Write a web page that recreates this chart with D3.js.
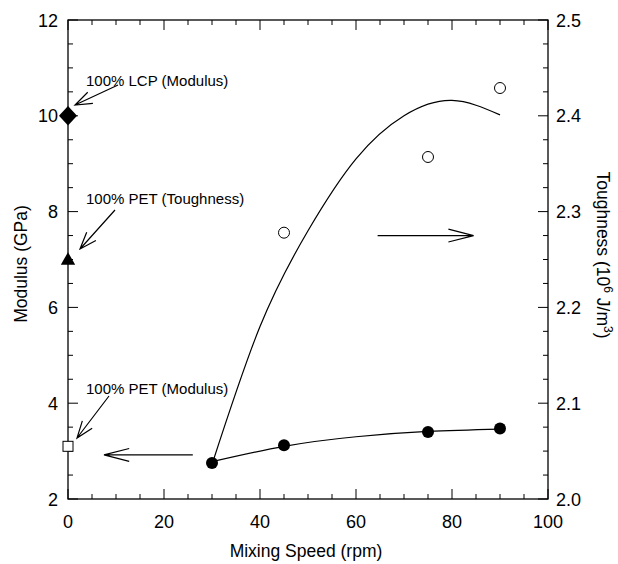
<!DOCTYPE html>
<html>
<head>
<meta charset="utf-8" />
<title>Modulus and toughness vs mixing speed</title>
<style>
body { margin: 0; background: #fff; }
#graph { width: 618px; height: 564px; }
text { font-family: "Liberation Sans", Arial, Helvetica, sans-serif; fill: #000; }
</style>
</head>
<body>
<div id="graph"></div>
<script src="https://d3js.org/d3.v7.min.js"></script>
<script>
// blend data
var speed = [30, 45, 75, 90];
var modulus = [2.75, 3.12, 3.40, 3.47];
var toughSpeed = [45, 75, 90];
var toughness = [2.278, 2.357, 2.429];

// smooth fit lines as drawn in the figure
var modulusFit = [[30, 2.78], [45, 3.10], [60, 3.30], [75, 3.41], [90, 3.46]];
var toughnessFit = [[30, 2.036], [40, 2.18], [50, 2.28], [60, 2.355], [70, 2.400], [80, 2.416], [90, 2.401]];

// pure-component reference points at 0 rpm (on the modulus scale)
var lcpModulus = 10;
var petToughnessOnLeft = 7;
var petModulus = 3.1;

var xTicks = [0, 20, 40, 60, 80, 100];
var yLeftTicks = [2, 4, 6, 8, 10, 12];
var yRightTicks = [2.0, 2.1, 2.2, 2.3, 2.4, 2.5];

!(function(){
    "use strict"
    var width = 618, height = 564;
    var margin = {top: 20, left: 68, bottom: 65, right: 70};
    var chartWidth = width - margin.left - margin.right;
    var chartHeight = height - margin.top - margin.bottom;

    var svg = d3.select("#graph").append("svg")
        .attr("width", width).attr("height", height);
    var g = svg.append("g")
        .attr("transform", "translate(" + [margin.left, margin.top] + ")");

    var xScale = d3.scaleLinear().domain([0, 100]).range([0, chartWidth]);
    var yScale = d3.scaleLinear().domain([2, 12]).range([chartHeight, 0]);
    var y2Scale = d3.scaleLinear().domain([2.0, 2.5]).range([chartHeight, 0]);

    // frame
    g.append("rect")
        .attr("width", chartWidth).attr("height", chartHeight)
        .attr("fill", "none").attr("stroke", "#000").attr("stroke-width", 1.3);

    // minor + major ticks, pointing inward
    function ticks(scale, minorStep, majorVals, orient) {
        var d = scale.domain();
        var vals = d3.range(d[0], d[1] + minorStep / 2, minorStep);
        vals.forEach(function(v) {
            var major = majorVals.some(function(m){ return Math.abs(m - v) < 1e-6 });
            var len = major ? 10 : 5;
            var p = scale(v);
            var l = g.append("line").attr("stroke", "#000").attr("stroke-width", 1);
            if (orient === "bottom") l.attr("x1", p).attr("x2", p).attr("y1", chartHeight).attr("y2", chartHeight - len);
            if (orient === "top") l.attr("x1", p).attr("x2", p).attr("y1", 0).attr("y2", len);
            if (orient === "left") l.attr("x1", 0).attr("x2", len).attr("y1", p).attr("y2", p);
            if (orient === "right") l.attr("x1", chartWidth).attr("x2", chartWidth - len).attr("y1", p).attr("y2", p);
        });
    }
    ticks(xScale, 5, xTicks, "bottom");
    ticks(xScale, 5, xTicks, "top");
    ticks(yScale, 0.5, yLeftTicks, "left");
    ticks(y2Scale, 0.025, yRightTicks, "right");

    // tick labels
    g.selectAll(".xl").data(xTicks).enter().append("text")
        .attr("x", function(d){ return xScale(d) })
        .attr("y", chartHeight + 29)
        .attr("text-anchor", "middle").attr("font-size", 18)
        .text(function(d){ return d });
    g.selectAll(".yl").data(yLeftTicks).enter().append("text")
        .attr("x", -10)
        .attr("y", function(d){ return yScale(d) + 6.5 })
        .attr("text-anchor", "end").attr("font-size", 18)
        .text(function(d){ return d });
    g.selectAll(".yr").data(yRightTicks).enter().append("text")
        .attr("x", chartWidth + 8)
        .attr("y", function(d){ return y2Scale(d) + 6.5 })
        .attr("text-anchor", "start").attr("font-size", 18)
        .text(function(d){ return d.toFixed(1) });

    // axis titles
    svg.append("text")
        .attr("x", margin.left + chartWidth / 2 - 2).attr("y", 557)
        .attr("text-anchor", "middle").attr("font-size", 17.5)
        .text("Mixing Speed (rpm)");
    svg.append("text")
        .attr("transform", "translate(27,264) rotate(-90)")
        .attr("text-anchor", "middle").attr("font-size", 17.5)
        .text("Modulus (GPa)");
    var tt = svg.append("text")
        .attr("transform", "translate(597,255) rotate(90)")
        .attr("text-anchor", "middle").attr("font-size", 17.5);
    tt.append("tspan").text("Toughness (10");
    tt.append("tspan").attr("font-size", 12).attr("dy", -7).text("6");
    tt.append("tspan").attr("dy", 7).text(" J/m");
    tt.append("tspan").attr("font-size", 12).attr("dy", -7).text("3");
    tt.append("tspan").attr("dy", 7).text(")");

    // fit lines
    var lineM = d3.line()
        .x(function(d){ return xScale(d[0]) })
        .y(function(d){ return yScale(d[1]) })
        .curve(d3.curveNatural);
    var lineT = d3.line()
        .x(function(d){ return xScale(d[0]) })
        .y(function(d){ return y2Scale(d[1]) })
        .curve(d3.curveNatural);
    g.append("path").attr("d", lineM(modulusFit))
        .attr("fill", "none").attr("stroke", "#000").attr("stroke-width", 1.2);
    g.append("path").attr("d", lineT(toughnessFit))
        .attr("fill", "none").attr("stroke", "#000").attr("stroke-width", 1.2);

    // points
    g.selectAll(".mod").data(speed).enter().append("circle")
        .attr("cx", function(d){ return xScale(d) })
        .attr("cy", function(d, i){ return yScale(modulus[i]) })
        .attr("r", 6).attr("fill", "#000");
    g.selectAll(".tou").data(toughSpeed).enter().append("circle")
        .attr("cx", function(d){ return xScale(d) })
        .attr("cy", function(d, i){ return y2Scale(toughness[i]) })
        .attr("r", 5.5).attr("fill", "#fff").attr("stroke", "#000").attr("stroke-width", 1);

    // reference markers at 0 rpm
    var sym = d3.symbol();
    g.append("path")
        .attr("transform", "translate(" + [xScale(0), yScale(lcpModulus)] + ") scale(1.6,1)")
        .attr("d", sym.type(d3.symbolDiamond).size(110)())
        .attr("fill", "#000");
    g.append("path")
        .attr("transform", "translate(" + [xScale(0), yScale(petToughnessOnLeft) + 1] + ")")
        .attr("d", sym.type(d3.symbolTriangle).size(90)())
        .attr("fill", "#000");
    g.append("rect")
        .attr("x", xScale(0) - 5).attr("y", yScale(petModulus) - 5)
        .attr("width", 10).attr("height", 10)
        .attr("fill", "#fff").attr("stroke", "#000").attr("stroke-width", 1);

    // open-headed arrows
    function arrow(x1, y1, x2, y2, head, spread) {
        var a = Math.atan2(y2 - y1, x2 - x1);
        var s = spread || 0.3;
        g.append("path")
            .attr("d", "M" + x1 + "," + y1 + "L" + x2 + "," + y2 +
                "M" + (x2 - head * Math.cos(a - s)) + "," + (y2 - head * Math.sin(a - s)) +
                "L" + x2 + "," + y2 +
                "L" + (x2 - head * Math.cos(a + s)) + "," + (y2 - head * Math.sin(a + s)))
            .attr("fill", "none").attr("stroke", "#000").attr("stroke-width", 1.2);
    }

    var notes = [
        {text: "100% LCP (Modulus)", ty: 66, from: [50, 65], to: [7, 85]},
        {text: "100% PET (Toughness)", ty: 184, from: [47, 190], to: [12, 229]},
        {text: "100% PET (Modulus)", ty: 374, from: [41, 376], to: [9, 418]}
    ];
    notes.forEach(function(n) {
        g.append("text").attr("x", 18).attr("y", n.ty).attr("font-size", 15).text(n.text);
        arrow(n.from[0], n.from[1], n.to[0], n.to[1], 18, 0.35);
    });

    // axis indicator arrows
    arrow(xScale(26), yScale(2.92), xScale(7.5), yScale(2.92), 26, 0.25);
    arrow(xScale(64.5), y2Scale(2.275), xScale(84.5), y2Scale(2.275), 26, 0.25);
}());
</script>
</body>
</html>
